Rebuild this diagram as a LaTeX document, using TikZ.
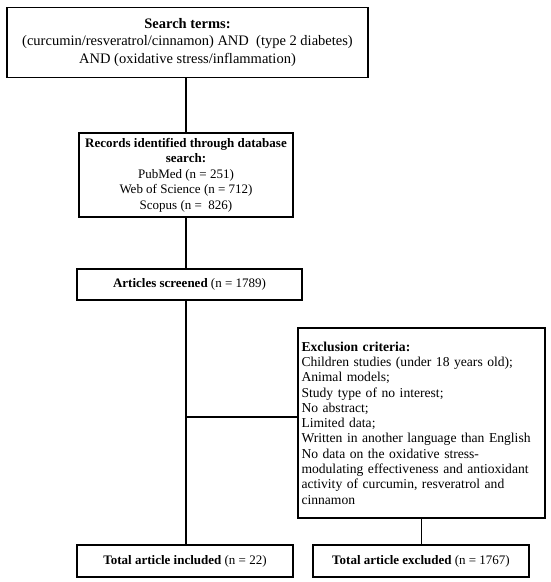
\documentclass[tikz,border=0pt]{standalone}
\usepackage{fontspec}
\setmainfont{Liberation Serif}
\begin{document}
\begin{tikzpicture}
        [x=1pt,y=-1pt,line width=1.2pt,every node/.style={draw, inner sep=3.5pt, align=center, font=\fontsize{13}{15.5}\selectfont}]
      \useasboundingbox (0,0) rectangle (550,582);
      \node[minimum width=361pt, minimum height=70pt, font=\fontsize{14.5}{17.8}\selectfont] (search) at (187.5,42.5)
        {\textbf{Search terms:}\\(curcumin/resveratrol/cinnamon) AND~ (type 2 diabetes)\\AND (oxidative stress/inflammation)};
      \node[minimum width=214pt, minimum height=84pt] (records) at (186,175)
        {\textbf{Records identified through database}\\\textbf{search:}\\PubMed (n = 251)\\Web of Science (n = 712)\\Scopus (n = ~826)};
      \node[minimum width=225pt, minimum height=31pt] (screened) at (189.5,284.5) {\textbf{Articles screened} (n = 1789)};
      \node[minimum width=247pt, minimum height=190pt, text width=240pt, align=left, font=\fontsize{13.6}{15.3}\selectfont] (exclusion) at (421.5,423)
        {\textbf{Exclusion criteria:}\\Children studies (under 18 years old);\\Animal models;\\Study type of no interest;\\No abstract;\\Limited data;\\Written in another language than English\\No data on the oxidative stress-\\modulating effectiveness and antioxidant\\activity of curcumin, resveratrol and\\cinnamon};
      \node[minimum width=216pt, minimum height=32pt] (included) at (185,561) {\textbf{Total article included} (n = 22)};
      \node[minimum width=216pt, minimum height=32pt] (excluded) at (421,561) {\textbf{Total article excluded} (n = 1767)};
      \coordinate (split) at (186,417);

      \draw (search.south -| records.north) -- (records.north);
      \draw (records.south) -- (records.south |- screened.north);
      \draw (records.south |- screened.south) -- (records.south |- included.north);
      \draw (split) -- (split -| exclusion.west);
      \draw (exclusion.south) -- (exclusion.south |- excluded.north);
    \end{tikzpicture}
\end{document}
